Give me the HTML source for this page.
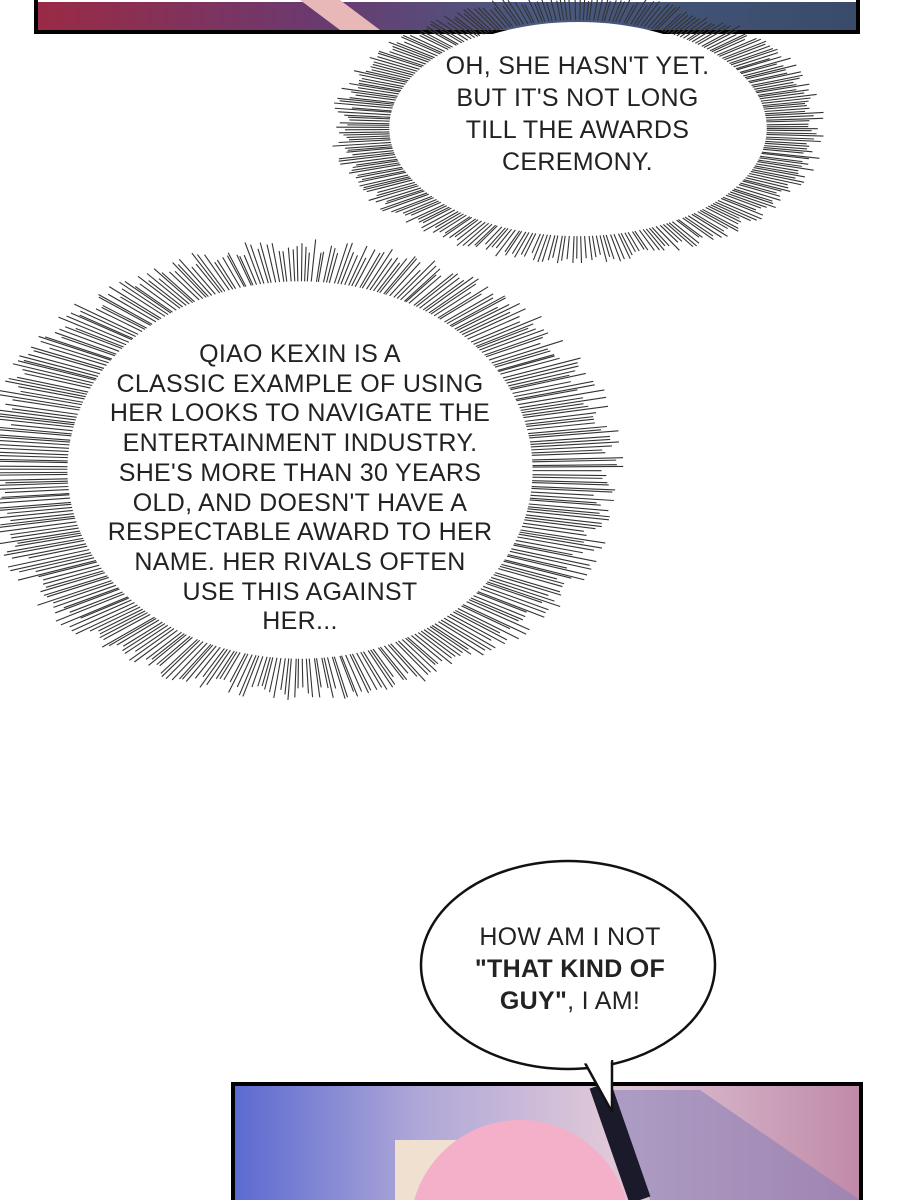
<!DOCTYPE html>
<html><head><meta charset="utf-8"><style>
html,body{margin:0;width:900px;height:1200px;background:#fff;overflow:hidden;position:relative;font-family:"Liberation Sans",sans-serif}
.t{position:absolute;text-align:center;color:#222;font-size:25px;line-height:32px;letter-spacing:0.3px}
</style></head><body>
<svg id="s" width="900" height="1200" viewBox="0 0 900 1200" style="position:absolute;left:0;top:0;overflow:hidden">
<defs>
<linearGradient id="g1" x1="0" x2="1"><stop offset="0" stop-color="#9a2a45"/><stop offset="0.35" stop-color="#6a3a70"/><stop offset="0.6" stop-color="#4a5a80"/><stop offset="1" stop-color="#3a4a6a"/></linearGradient>
<linearGradient id="g2" x1="0" x2="1"><stop offset="0" stop-color="#5a6ad0"/><stop offset="0.3" stop-color="#b0a8d8"/><stop offset="0.6" stop-color="#e0c8d8"/><stop offset="1" stop-color="#c08aa8"/></linearGradient>
<clipPath id="c2"><rect x="233" y="1084" width="628" height="116"/></clipPath>
</defs>
<rect x="36" y="2" width="822" height="30" fill="url(#g1)"/>
<path d="M36 0 V32 H858 V0" fill="none" stroke="#000" stroke-width="4"/>
<polygon points="300,0 340,0 380,30 340,30" fill="#e8b8b8"/>
<g id="sp"></g>
<rect x="233" y="1084" width="628" height="116" fill="url(#g2)"/>
<g clip-path="url(#c2)">
<rect x="395" y="1140" width="90" height="60" fill="#f0e0d0"/>
<ellipse cx="520" cy="1230" rx="110" ry="110" fill="#f4b0c8"/>
<path d="M610 1090 L700 1090 L860 1200 L650 1200 Z" fill="#8a80b8" opacity="0.6"/>
<path d="M600 1085 L640 1200" stroke="#1a1a2a" stroke-width="22"/>
</g>
<path d="M233 1200 V1084 H861 V1200" fill="none" stroke="#000" stroke-width="4"/>
<ellipse cx="568" cy="965" rx="147" ry="104" fill="#fff" stroke="#111" stroke-width="2.5"/>
<path d="M585 1063 L612 1112 L612 1060" fill="#fff" stroke="#111" stroke-width="2.5"/>
<path d="M584 1061 L611 1059" stroke="#fff" stroke-width="5"/>
</svg>
<div class="t" style="left:400px;top:50px;width:355px">OH, SHE HASN'T YET.<br>BUT IT'S NOT LONG<br>TILL THE AWARDS<br>CEREMONY.</div>
<div class="t" style="left:70px;top:340px;width:460px;line-height:29.7px">QIAO KEXIN IS A<br>CLASSIC EXAMPLE OF USING<br>HER LOOKS TO NAVIGATE THE<br>ENTERTAINMENT INDUSTRY.<br>SHE'S MORE THAN 30 YEARS<br>OLD, AND DOESN'T HAVE A<br>RESPECTABLE AWARD TO HER<br>NAME. HER RIVALS OFTEN<br>USE THIS AGAINST<br>HER...</div>
<div class="t" style="left:430px;top:921px;width:280px">HOW AM I NOT<br><b>"THAT KIND OF<br>GUY"</b>, I AM!</div>
<script>
var g=document.getElementById('sp'),h='';
function burst(cx,cy,rx,ry,ox,oy,n,seed){
 var s=seed;function r(){s=(s*9301+49297)%233280;return s/233280;}
 for(var i=0;i<n;i++){var a=i/n*Math.PI*2+r()*0.01;var c=Math.cos(a),si=Math.sin(a);
  var k=0.8+r()*0.35;
  var x1=cx+c*rx*1.02,y1=cy+si*ry*1.02,x2=cx+c*(rx+(ox-rx)*k),y2=cy+si*(ry+(oy-ry)*k);
  h+='<line x1="'+x1+'" y1="'+y1+'" x2="'+x2+'" y2="'+y2+'" stroke="#333" stroke-width="1.1"/>';}
 h+='<ellipse cx="'+cx+'" cy="'+cy+'" rx="'+rx+'" ry="'+ry+'" fill="#fff"/>';
}
burst(578,128,185,106,240,132,320,7);
burst(300,470,228,185,312,225,400,3);
g.innerHTML=h;
</script>
</body></html>
